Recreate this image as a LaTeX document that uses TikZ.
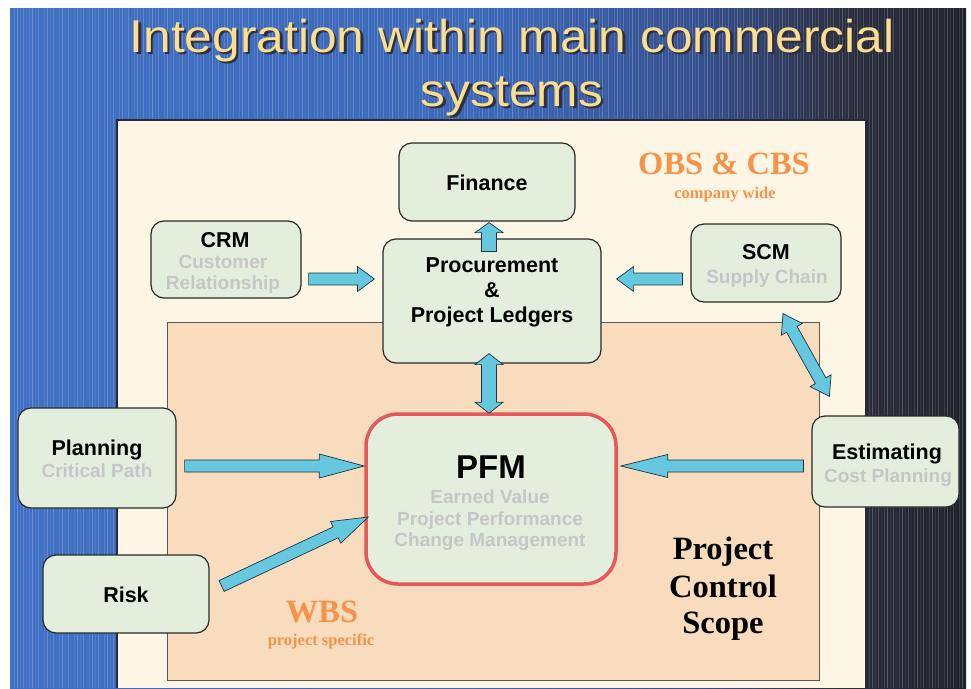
\documentclass[tikz,border=0pt]{standalone}
\usepackage{fontspec}
\usepackage{graphicx}
\setmainfont{Liberation Serif}
\newfontfamily\arialf{Liberation Sans}
\usetikzlibrary{calc}

\definecolor{bgA}{HTML}{3F70C4}
\definecolor{bgB}{HTML}{3A66B6}
\definecolor{bgC}{HTML}{344F8E}
\definecolor{bgD}{HTML}{2A2E40}
\definecolor{bgE}{HTML}{202229}
\definecolor{cream}{HTML}{FEF6E4}
\definecolor{peach}{HTML}{F9DCBD}
\definecolor{boxfill}{HTML}{E3EEDC}
\definecolor{boxline}{HTML}{2A2A2A}
\definecolor{subgray}{HTML}{C6C6C8}
\definecolor{orng}{HTML}{F5934A}
\definecolor{pfmred}{HTML}{E8565A}
\definecolor{arrowfill}{HTML}{66C8DF}
\definecolor{arrowline}{HTML}{1E3440}
\definecolor{titlecol}{HTML}{FDDE8E}
\definecolor{titleshadow}{HTML}{2E3040}
\definecolor{panelline}{HTML}{25293A}

\newcommand\fmain{\arialf\bfseries\fontsize{21.5}{24}\selectfont}
\newcommand\fsub{\arialf\bfseries\fontsize{19}{22}\selectfont}
\newcommand\fpfm{\arialf\bfseries\fontsize{33}{36}\selectfont}
\newcommand\ftitle{\arialf\fontsize{46}{52}\selectfont}
\newcommand\fbig{\bfseries\fontsize{32.5}{36}\selectfont}
\newcommand\fsmall{\bfseries\fontsize{16.5}{19}\selectfont}
% title text with a drop shadow, set as one piece of text
\newcommand\shadowtext[1]{%
  \makebox[0pt][l]{\hspace{2.5pt}\raisebox{-2.5pt}{\color{titleshadow}\scalebox{1.08}[1]{#1}}}%
  \scalebox{1.08}[1]{#1}}

% single-headed block arrow: start, tip, shaft half width, head half width, head length
\newcommand\blockarrow[5]{%
  \coordinate (ba-h) at ($(#2)!#5!(#1)$);
  \filldraw[barrow] ($(#1)!#3!90:(#2)$) -- ($(ba-h)!#3!90:(#2)$) -- ($(ba-h)!#4!90:(#2)$)
    -- (#2) -- ($(ba-h)!#4!-90:(#2)$) -- ($(ba-h)!#3!-90:(#2)$) -- ($(#1)!#3!-90:(#2)$) -- cycle;
}
% double-headed block arrow
\newcommand\dblockarrow[5]{%
  \coordinate (bb-a) at ($(#1)!#5!(#2)$);
  \coordinate (bb-b) at ($(#2)!#5!(#1)$);
  \filldraw[barrow] (#1) -- ($(bb-a)!#4!90:(#2)$) -- ($(bb-a)!#3!90:(#2)$) -- ($(bb-b)!#3!90:(#2)$)
    -- ($(bb-b)!#4!90:(#2)$) -- (#2) -- ($(bb-b)!#4!-90:(#2)$) -- ($(bb-b)!#3!-90:(#2)$)
    -- ($(bb-a)!#3!-90:(#2)$) -- ($(bb-a)!#4!-90:(#2)$) -- cycle;
}

\begin{document}
\begin{tikzpicture}[x=1pt,y=-1pt,
  box/.style={draw=boxline, fill=boxfill, line width=1.2pt, rounded corners=13pt, inner sep=0pt},
  lbl/.style={anchor=base, inner sep=0pt, text=black, font=\fmain},
  sublbl/.style={anchor=base, inner sep=0pt, text=subgray, font=\fsub},
  orbig/.style={anchor=base, inner sep=0pt, text=orng, font=\fbig},
  orsmall/.style={anchor=base, inner sep=0pt, text=orng, font=\fsmall},
  scopelbl/.style={anchor=base, inner sep=0pt, text=black, font=\fbig},
  ttl/.style={anchor=base, inner sep=0pt, text=titlecol, font=\ftitle},
  barrow/.style={fill=arrowfill, draw=arrowline, line width=0.7pt, line join=miter}]

\useasboundingbox (0,0) rectangle (971,688);
\fill[white] (0,0) rectangle (971,688);

% background gradient
\shade[left color=bgA, right color=bgB] (10,8) rectangle (500.5,688);
\shade[left color=bgB, right color=bgC] (500,8) rectangle (700.5,688);
\shade[left color=bgC, right color=bgD] (700,8) rectangle (840.5,688);
\shade[left color=bgD, right color=bgE] (840,8) rectangle (966,688);
% vertical stripes
\foreach \i in {0,...,317} {
  \pgfmathsetmacro\op{0.04+0.045*mod(\i*7,5)}
  \draw[white, opacity=\op, line width=0.9pt] ({11+3*\i},8) -- ({11+3*\i},688);
}

% panels
\fill[cream] (117,120) rectangle (866,688);
\draw[panelline, line width=1.6pt] (117,688) -- (117,120) -- (866,120) -- (866,688);
\draw[fill=peach, draw=black!65, line width=1pt] (167,322) rectangle (819,680);

% title
\node[ttl] (title1) at (512,52) {\shadowtext{Integration within main commercial}};
\node[ttl] (title2) at (512,106) {\shadowtext{systems}};

% region labels
\node[orbig] (obs) at (724,174) {OBS \& CBS};
\node[orsmall] (obs2) at (725,198) {company wide};
\node[orbig] (wbs) at (322,622) {WBS};
\node[orsmall] (wbs2) at (321,645) {project specific};
\node[scopelbl] (sc1) at (723,559) {Project};
\node[scopelbl] (sc2) at (723,597) {Control};
\node[scopelbl] (sc3) at (723,633) {Scope};

% boxes
\node[box, minimum width=176pt, minimum height=78pt] (fin) at (487,182) {};
\node[box, minimum width=150pt, minimum height=77pt] (crm) at (226,259.5) {};
\node[box, minimum width=218pt, minimum height=124pt] (proc) at (492,301) {};
\node[box, minimum width=150pt, minimum height=78pt] (scm) at (766,263) {};
\node[box, minimum width=158pt, minimum height=100pt] (plan) at (97,458) {};
\node[box, minimum width=166pt, minimum height=78pt] (risk) at (126,594) {};
\node[box, minimum width=147pt, minimum height=91pt] (est) at (885.5,461.5) {};
\node[box, draw=pfmred, line width=3.5pt, rounded corners=32pt, minimum width=250pt, minimum height=170pt] (pfm) at (491,499) {};

% box texts
\node[lbl] (finT) at (487,190) {Finance};
\node[lbl] (crmT) at (225,247) {CRM};
\node[sublbl] (crmS1) at (223,268) {Customer};
\node[sublbl] (crmS2) at (223,289) {Relationship};
\node[lbl] (procT1) at (492,272) {Procurement};
\node[lbl] (procT2) at (492,297) {\&};
\node[lbl] (procT3) at (492,322) {Project Ledgers};
\node[lbl] (scmT) at (766,259) {SCM};
\node[sublbl] (scmS) at (767,283) {Supply Chain};
\node[lbl] (planT) at (97,455) {Planning};
\node[sublbl] (planS) at (97,477) {Critical Path};
\node[lbl] (riskT) at (126,602) {Risk};
\node[lbl] (estT) at (887,459) {Estimating};
\node[sublbl] (estS) at (888,482) {Cost Planning};
\node[lbl, font=\fpfm] (pfmT) at (491,478) {PFM};
\node[sublbl] (pfmS1) at (490,503) {Earned Value};
\node[sublbl] (pfmS2) at (490,525) {Project Performance};
\node[sublbl] (pfmS3) at (490,546) {Change Management};

% connector end points
\coordinate (a1s) at ($(crm.east)+(7,19.5)$);
\coordinate (a1t) at ($(proc.west |- a1s)+(-8,0)$);
\coordinate (a2s) at ($(scm.west)+(-8,16)$);
\coordinate (a2t) at ($(proc.east |- a2s)+(15,0)$);
\coordinate (a3s) at ($(proc.north)+(-3,13)$);
\coordinate (a3t) at ($(fin.south)+(2,1)$);
\coordinate (a4s) at ($(proc.south)+(-3,-10)$);
\coordinate (a4t) at ($(pfm.north)+(-2,1)$);
\coordinate (a5s) at ($(scm.south)+(17,11)$);
\coordinate (a5t) at ($(est.north west)+(18,-19)$);
\coordinate (a6s) at ($(plan.east)+(8,8)$);
\coordinate (a6t) at ($(pfm.west)+(0,-33)$);
\coordinate (a7s) at ($(risk.east)+(12,-8)$);
\coordinate (a7t) at ($(pfm.west)+(4,18)$);
\coordinate (a8s) at ($(est.west)+(-8,4.5)$);
\coordinate (a8t) at ($(pfm.east)+(3,-33)$);

% block arrows
\blockarrow{a1s}{a1t}{6pt}{12.5pt}{17pt}
\blockarrow{a2s}{a2t}{6pt}{12.5pt}{17pt}
\blockarrow{a3s}{a3t}{7.5pt}{14pt}{10pt}
\dblockarrow{a4s}{a4t}{7.5pt}{14pt}{11pt}
\dblockarrow{a5s}{a5t}{6pt}{12pt}{18pt}
\blockarrow{a6s}{a6t}{6pt}{12pt}{45pt}
\blockarrow{a7s}{a7t}{6pt}{12pt}{36pt}
\blockarrow{a8s}{a8t}{6pt}{11.5pt}{47pt}
\end{tikzpicture}
\end{document}
